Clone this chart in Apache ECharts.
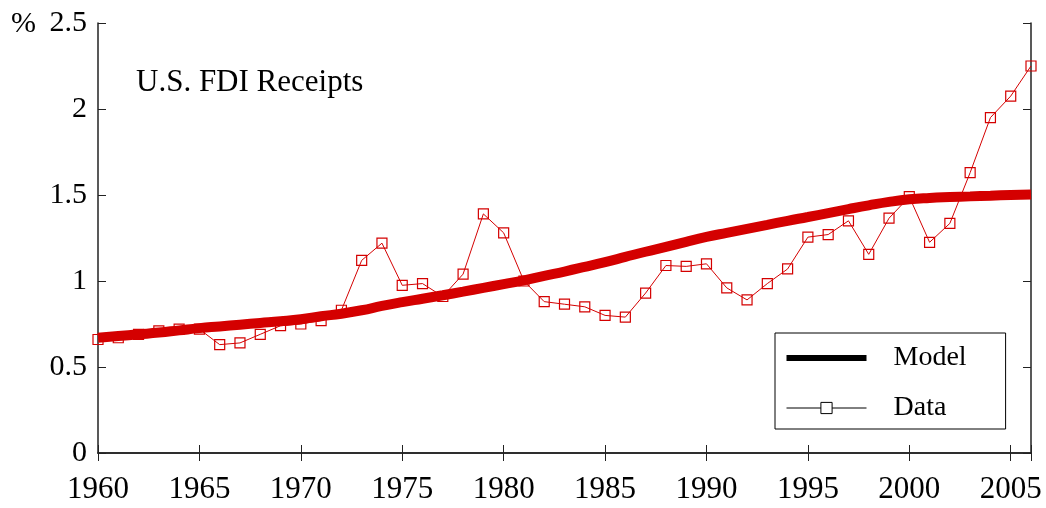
<!DOCTYPE html>
<html>
<head>
<meta charset="utf-8">
<script src="https://cdn.jsdelivr.net/npm/echarts@6/dist/echarts.min.js"></script>
<style>
  html, body { margin: 0; padding: 0; background: #fff; }
  #chart { width: 1046px; height: 508px; }
</style>
</head>
<body>
<div id="chart"></div>
<script>
var years = [];
for (var y = 1960; y <= 2006; y++) years.push(y);

var dataValues = [0.66, 0.67, 0.69, 0.71, 0.72, 0.72, 0.63, 0.64, 0.69, 0.74,
  0.75, 0.77, 0.83, 1.12, 1.22, 0.975, 0.985, 0.91, 1.04, 1.39,
  1.28, 1.00, 0.88, 0.865, 0.85, 0.80, 0.79, 0.93, 1.09, 1.085,
  1.10, 0.96, 0.89, 0.985, 1.07, 1.255, 1.27, 1.35, 1.155, 1.365,
  1.49, 1.225, 1.335, 1.63, 1.95, 2.075, 2.25];

// model curve, %
var modelValues = [0.67, 0.68, 0.69, 0.70, 0.713, 0.726, 0.736, 0.746, 0.756, 0.766,
  0.778, 0.795, 0.81, 0.83, 0.855, 0.877, 0.897, 0.917, 0.938, 0.96,
  0.982, 1.004, 1.03, 1.055, 1.082, 1.11, 1.14, 1.17, 1.198, 1.228,
  1.256, 1.28, 1.303, 1.326, 1.35, 1.372, 1.395, 1.418, 1.44, 1.46,
  1.475, 1.483, 1.488, 1.492, 1.496, 1.50, 1.503];

var xTicks = [1960, 1965, 1970, 1975, 1980, 1985, 1990, 1995, 2000, 2005];

var font = 'Liberation Serif';
var red = '#d40000';

var chart = echarts.init(document.getElementById('chart'));

function pairs(vals) {
  return years.map(function (yr, i) { return [yr, vals[i]]; });
}

var axisLineStyle = { color: '#222', width: 1.5 };

chart.setOption({
  animation: false,
  title: {
    text: 'U.S. FDI Receipts',
    left: 131, top: 62,
    textStyle: { fontFamily: font, fontSize: 31, fontWeight: 'normal', color: '#000' }
  },
  graphic: [{
    type: 'text', left: 11, top: 9,
    style: { text: '%', font: '30px "Liberation Serif"', fill: '#000' }
  }],
  grid: { left: 98, right: 15, top: 23, bottom: 55 },
  legend: {
    orient: 'vertical',
    left: 775, top: 333,
    padding: [11, 39, 7, 11],
    itemWidth: 80, itemHeight: 14, itemGap: 22,
    borderColor: '#000', borderWidth: 1,
    textStyle: { fontFamily: font, fontSize: 28, color: '#000', padding: [0, 0, 0, 22] },
    data: [
      { name: 'Model', icon: 'path://M0,0H80V6H0Z', itemStyle: { color: '#000' } },
      { name: 'Data', lineStyle: { color: '#000', width: 1 }, itemStyle: { color: '#fff', borderColor: '#000', borderWidth: 1 } }
    ]
  },
  xAxis: [{
    type: 'value', min: 1960, max: 2006, interval: 5,
    splitLine: { show: false },
    axisLine: { lineStyle: axisLineStyle },
    axisTick: { inside: true, length: 8, lineStyle: { color: '#222' } },
    axisLabel: {
      margin: 21, fontFamily: font, fontSize: 31, color: '#000',
      formatter: function (v) { return xTicks.indexOf(v) >= 0 ? String(v) : ''; }
    }
  }, {
    type: 'value', min: 1960, max: 2006, interval: 5, position: 'top',
    splitLine: { show: false },
    axisLine: { lineStyle: axisLineStyle },
    axisTick: { inside: true, length: 8, lineStyle: { color: '#222' } },
    axisLabel: { show: false }
  }],
  yAxis: [{
    type: 'value', min: 0, max: 2.5, interval: 0.5,
    splitLine: { show: false },
    axisLine: { show: true, lineStyle: axisLineStyle },
    axisTick: { show: true, inside: true, length: 8, lineStyle: { color: '#222' } },
    axisLabel: { margin: 11, fontFamily: font, fontSize: 30, color: '#000' }
  }, {
    type: 'value', min: 0, max: 2.5, interval: 0.5, position: 'right',
    splitLine: { show: false },
    axisLine: { show: true, lineStyle: axisLineStyle },
    axisTick: { show: true, inside: true, length: 8, lineStyle: { color: '#222' } },
    axisLabel: { show: false }
  }],
  series: [{
    name: 'Model', type: 'line', smooth: true, symbol: 'none',
    data: pairs(modelValues),
    lineStyle: { color: red, width: 10 },
    itemStyle: { color: red },
    z: 2
  }, {
    name: 'Data', type: 'line', symbol: 'rect', symbolSize: 10,
    data: pairs(dataValues),
    lineStyle: { color: red, width: 1 },
    itemStyle: { color: 'rgba(255,255,255,0)', borderColor: red, borderWidth: 1.2 },
    z: 3
  }]
});
</script>
</body>
</html>
